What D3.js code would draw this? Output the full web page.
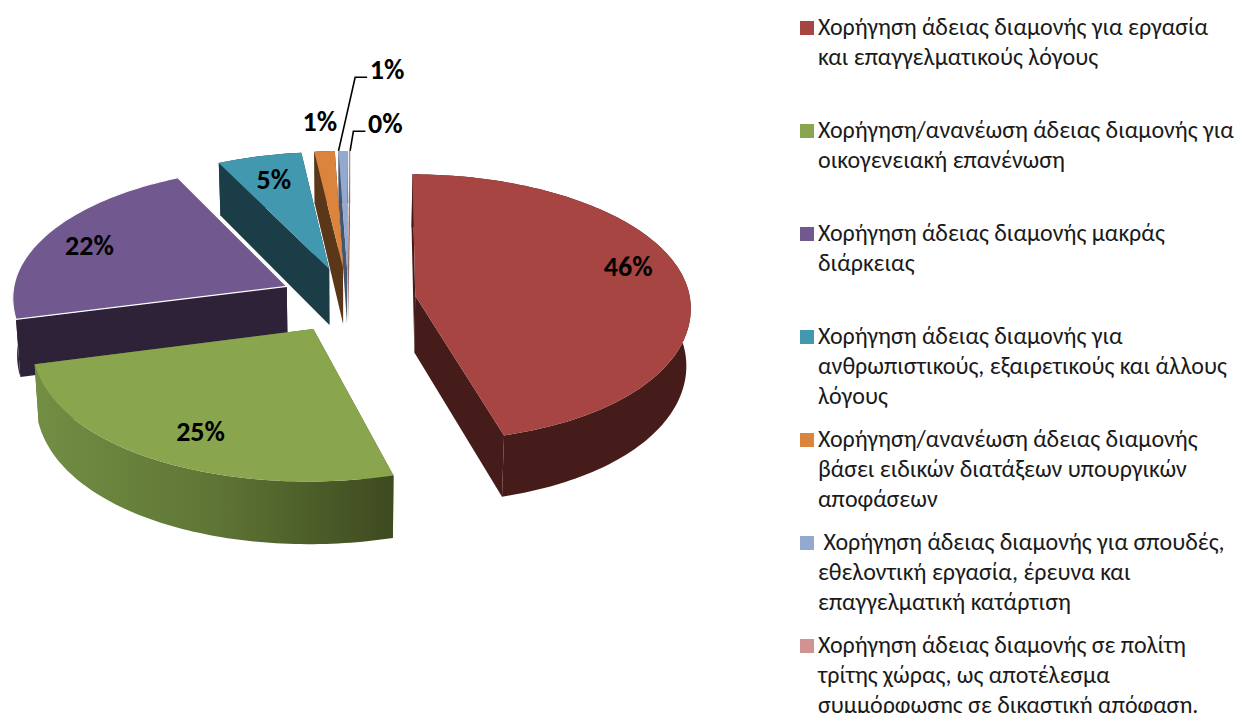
<!DOCTYPE html>
<html lang="el"><head><meta charset="utf-8">
<style>html,body{margin:0;background:#fff}svg{display:block}
.leg{font:24px Carlito,Lato,"Open Sans",sans-serif;fill:#1a1a1a}
.lab{font:bold 28px Carlito,Lato,"Open Sans",sans-serif;fill:#000;text-anchor:middle}</style>
</head><body><svg id="c" width="1238" height="713"></svg>
<script src="https://cdnjs.cloudflare.com/ajax/libs/d3/7.8.5/d3.min.js"></script>
<script>
const categories = [
  ["Χορήγηση άδειας διαμονής για εργασία","και επαγγελματικούς λόγους"],
  ["Χορήγηση/ανανέωση άδειας διαμονής για","οικογενειακή επανένωση"],
  ["Χορήγηση άδειας διαμονής μακράς","διάρκειας"],
  ["Χορήγηση άδειας διαμονής για","ανθρωπιστικούς, εξαιρετικούς και άλλους","λόγους"],
  ["Χορήγηση/ανανέωση άδειας διαμονής","βάσει ειδικών διατάξεων υπουργικών","αποφάσεων"],
  ["\u00a0Χορήγηση άδειας διαμονής για σπουδές,","εθελοντική εργασία, έρευνα και","επαγγελματική κατάρτιση"],
  ["Χορήγηση άδειας διαμονής σε πολίτη","τρίτης χώρας, ως αποτέλεσμα","συμμόρφωσης σε δικαστική απόφαση."]
];
const values = [45.5,25.3,21.7,5.4,1.3,0.6,0.05];
const topColors = ["#A64541","#89A54E","#71588F","#4198AF","#DB843D","#93A9CF","#D19392"];
const wallColors = ["#451C1A","#526329","#2E2238","#1A3D48","#5A3718","#47566F","#6B3F3E"];
const labelOffsets = [[11,-16],[3,7],[-17,-1],[-2,-3],[-9,-57],[43,-109],[36,-55]];
const paintOrder = [6,5,4,3,2,0,1];

const cx=348, cy=300, R=275, explode=68, tilt=.485, persp=.00027, yBias=.00006, xFront=.04, depth=57, rot=.007;
const pct = d3.format(".0%");
const arcs = d3.pie().sort(null).value(d=>d).startAngle(rot).endAngle(2*Math.PI+rot)(values);
const svg = d3.select("#c");
const line = d3.line().x(p=>p[0]).y(p=>p[1]);

// project a point of slice i at polar (a, rho) on the disc, at drop z (0 top, 1 bottom)
function proj(d,a,rho,z){
  const m=(d.startAngle+d.endAngle)/2;
  const X=explode*Math.sin(m)+rho*Math.sin(a), Y=explode*Math.cos(m)+rho*Math.cos(a);
  const s=1/(1+persp*Y), f=Y<0?1+xFront*(Y/300)*(Y/300):1;
  return [cx+X*s*f*(1-.013*z), cy-Y*tilt*s*(1-yBias*Y)+z*depth*s];
}
function rim(d,z){
  const n=Math.max(2,Math.ceil((d.endAngle-d.startAngle)/.02));
  return d3.range(n+1).map(i=>proj(d,d.startAngle+(d.endAngle-d.startAngle)*i/n,R,z));
}
// gradient for the green outer wall
const gr=svg.append("defs").append("linearGradient").attr("id","gw").attr("gradientUnits","userSpaceOnUse")
  .attr("x1",proj(arcs[1],arcs[1].endAngle,R,0)[0]).attr("x2",proj(arcs[1],arcs[1].startAngle,R,0)[0]).attr("y1",0).attr("y2",0);
gr.append("stop").attr("offset",0).attr("stop-color","#728F44");
gr.append("stop").attr("offset",.5).attr("stop-color","#5F7535");
gr.append("stop").attr("offset",1).attr("stop-color","#3E4A20");

paintOrder.forEach(i=>{
  const d=arcs[i], g=svg.append("g");
  const wall=wallColors[i];
  [d.startAngle,d.endAngle].forEach(a=>{
    const p=[proj(d,a,0,0),proj(d,a,R,0),proj(d,a,R,1),proj(d,a,0,1)];
    g.append("path").attr("d",line(p)+"Z").attr("fill",wall);
  });
  const t=rim(d,0), b=rim(d,1).reverse();
  g.append("path").attr("d",line(t.concat(b))+"Z").attr("fill",i===1?"url(#gw)":wall);
  g.append("path").attr("d",line([proj(d,0,0,0)].concat(t))+"Z").attr("fill",topColors[i])
    .attr("stroke",i===2?"#fff":"none").attr("stroke-width",i===2?1.2:0);
});

// data labels
arcs.forEach((d,i)=>{
  const m=(d.startAngle+d.endAngle)/2;
  const p=proj(d,m,R*.75,0);
  const lx=p[0]+labelOffsets[i][0], ly=p[1]+labelOffsets[i][1];
  if(i>=5){
    const s=proj(d,i===5?d.startAngle:d.endAngle,R,0);
    svg.append("path").attr("fill","none").attr("stroke","#000").attr("stroke-width",1.6)
      .attr("d",line([s,[lx-32,ly+8],[lx-20,ly+8]]));
  }
  svg.append("text").attr("class","lab").attr("x",lx).attr("y",ly+9.5).text(pct(Math.round(values[i])/100));
});

// legend
const legY=d3.scaleLinear().domain([0,6]).range([35,653]);
categories.forEach((lines,i)=>{
  const y=legY(i);
  svg.append("rect").attr("x",800).attr("y",y-14).attr("width",14).attr("height",14).attr("fill",topColors[i]);
  lines.forEach((t,j)=>svg.append("text").attr("class","leg").attr("x",818).attr("y",y+j*30).text(t));
});
</script></body></html>
